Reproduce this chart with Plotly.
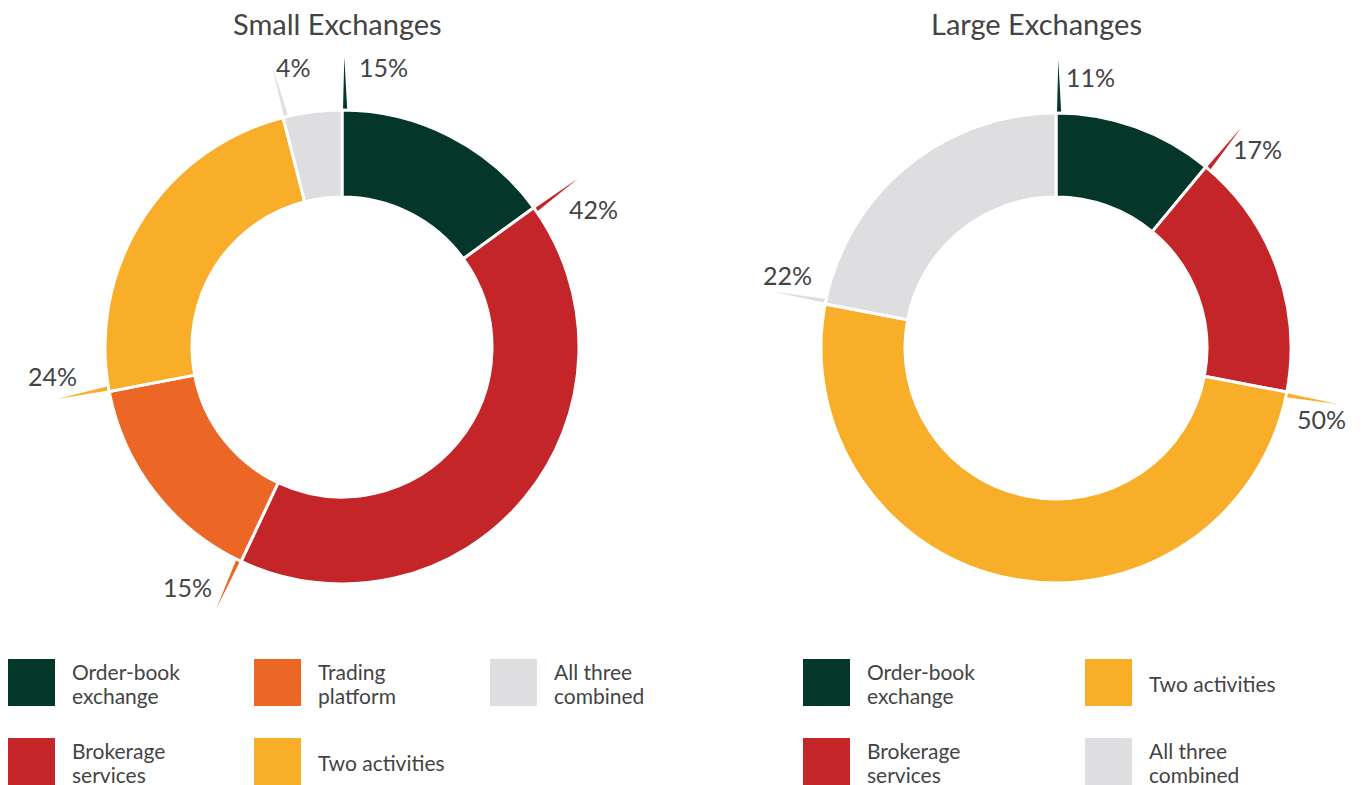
import math
import plotly.graph_objects as go

# ---------------- data ----------------
small_labels = ["Order-book exchange", "Brokerage services", "Trading platform", "Two activities", "All three combined"]
small_values = [15, 42, 15, 24, 4]
large_labels = ["Order-book exchange", "Brokerage services", "Two activities", "All three combined"]
large_values = [11, 17, 50, 22]

colors = {
    "Order-book exchange": "#04372A",
    "Brokerage services": "#C42528",
    "Trading platform": "#EC6625",
    "Two activities": "#F8AE29",
    "All three combined": "#DEDEE1",
}

small_legend = [[["Order-book", "exchange"], "Order-book exchange"], [["Trading", "platform"], "Trading platform"],
                [["All three", "combined"], "All three combined"], [["Brokerage", "services"], "Brokerage services"],
                [["Two activities"], "Two activities"]]
large_legend = [[["Order-book", "exchange"], "Order-book exchange"], [["Two activities"], "Two activities"],
                [["Brokerage", "services"], "Brokerage services"], [["All three", "combined"], "All three combined"]]

# ---------------- layout constants ----------------
OFF = 8                     # page body margin
W, H = 1362 - OFF, 785 - OFF
TXT = "#444444"
FONT = "Lato"


def px(v):
    return v - OFF


charts = [
    dict(title="Small Exchanges", labels=small_labels, values=small_values, cx=px(342), cy=px(347), R=237, rin=150,
         title_x=px(337),
         offs=[(15, 10, "left"), (17, 32, "center"), (-31, -22, "center"), (-5, -25, "center"), (24, 1, "center")]),
    dict(title="Large Exchanges", labels=large_labels, values=large_values, cx=px(1056), cy=px(348), R=235, rin=151,
         title_x=px(1036),
         offs=[(8, 17, "left"), (18, 23, "center"), (-17, 17, "center"), (14, -19, "center")]),
]

fig = go.Figure()
annotations = []
shapes = []

for ch in charts:
    cx, cy, R = ch["cx"], ch["cy"], ch["R"]
    dom_x = [(cx - R) / W, (cx + R) / W]
    dom_y = [(H - (cy + R)) / H, (H - (cy - R)) / H]
    fig.add_trace(go.Pie(
        labels=ch["labels"], values=ch["values"], sort=False, direction="clockwise", rotation=0,
        hole=ch["rin"] / R, textinfo="none", hoverinfo="label+percent",
        marker=dict(colors=[colors[l] for l in ch["labels"]], line=dict(color="white", width=3)),
        domain=dict(x=dom_x, y=dom_y), showlegend=False,
    ))
    total = sum(ch["values"])
    cum = 0
    for i, (lab, v) in enumerate(zip(ch["labels"], ch["values"])):
        a0 = 2 * math.pi * cum / total
        cum += v
        # tapered leader wedge at the slice's start angle
        L = 53
        pts = []
        for ang, r in [(a0 + 0.004, R - 3), (a0 + 0.004 + 4.5 / R, R - 3), (a0 + 0.008, R + L)]:
            pts.append((cx + r * math.sin(ang), cy - r * math.cos(ang)))
        fig.add_trace(go.Scatter(
            x=[p[0] for p in pts] + [pts[0][0]], y=[p[1] for p in pts] + [pts[0][1]],
            mode="lines", fill="toself", fillcolor=colors[lab], line=dict(width=0, color=colors[lab]),
            hoverinfo="skip", showlegend=False, xaxis="x", yaxis="y"))
        tx = cx + (R + L) * math.sin(a0)
        ty = cy - (R + L) * math.cos(a0)
        dx, dy, xa = ch["offs"][i]
        annotations.append(dict(x=tx + dx, y=ty + dy, xref="x", yref="y", text=f"{v}%", showarrow=False,
                                xanchor=xa, yanchor="middle", font=dict(family=FONT, size=25, color=TXT)))
    annotations.append(dict(x=ch["title_x"], y=px(23), xref="x", yref="y", text=ch["title"], showarrow=False,
                            xanchor="center", yanchor="middle", font=dict(family=FONT, size=29, color=TXT)))

# ---------------- custom legends ----------------
SQ = 47
legend_specs = [
    (small_legend, [px(8), px(254), px(490)], [px(659), px(738)], 3),
    (large_legend, [px(803), px(1085)], [px(659), px(738)], 2),
]
for items, cols, rows, ncol in legend_specs:
    for k, (lines, key) in enumerate(items):
        c, r = k % ncol, k // ncol
        x0, y0 = cols[c], rows[r]
        shapes.append(dict(type="rect", xref="x", yref="y", x0=x0, x1=x0 + SQ, y0=y0, y1=y0 + SQ,
                           fillcolor=colors[key], line=dict(width=0), layer="above"))
        n = len(lines)
        for j, t in enumerate(lines):
            yc = y0 + 24 + (j - (n - 1) / 2) * 24
            annotations.append(dict(x=x0 + SQ + 15, y=yc, xref="x", yref="y", text=t, showarrow=False,
                                    xanchor="left", yanchor="middle", align="left",
                                    font=dict(family=FONT, size=21, color=TXT)))

fig.update_layout(
    width=W, height=H, margin=dict(l=0, r=0, t=0, b=0),
    paper_bgcolor="white", plot_bgcolor="rgba(0,0,0,0)",
    xaxis=dict(range=[0, W], visible=False, fixedrange=True),
    yaxis=dict(range=[H, 0], visible=False, fixedrange=True),
    annotations=annotations, shapes=shapes, showlegend=False,
)

fig.write_html("out.html")
